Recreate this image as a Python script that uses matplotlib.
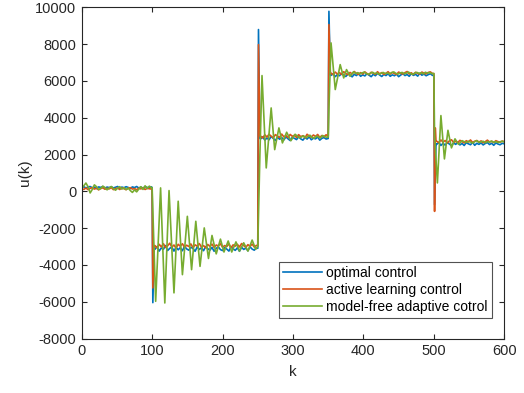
import numpy as np
import matplotlib
matplotlib.use("Agg")
import matplotlib.pyplot as plt

plt.rcParams['font.family'] = ['Liberation Sans', 'DejaVu Sans']
plt.rcParams['axes.unicode_minus'] = False

# ---- data (k, u(k)) ----
STEP = 3

# optimal control (blue)
blue_seg1 = [200, 250, 180, 230, 260, 190, 220, 150, 240, 210, 260, 170, 230, 200, 250, 180, 220,
             260, 160, 230, 190, 250, 210, 150, 240, 200, 260, 180, 230, 170, 250, 210, 190, 240]
blue_jump1_k = [100, 101, 103]
blue_jump1 = [200, -6050, -3100]
blue_seg2 = [-3150, -3000, -3250, -3080, -3150, -2950, -3220, -3100, -3030, -3250, -3040, -3180,
             -3060, -3230, -2990, -3130, -3200, -3040, -3110, -3260, -3020, -3160, -3070, -3230,
             -3000, -3120, -3200, -3050, -3260, -3100, -3020, -3170, -3220, -3060, -3140, -3250,
             -3010, -3130, -3210, -3070, -3260, -3040, -3160, -3090, -3230, -3020, -3140, -3200, -3080]
blue_jump2_k = [250, 251, 253]
blue_jump2 = [-3100, 8790, 2870]
blue_seg3 = [2850, 2960, 2780, 2900, 2800, 2980, 2870, 2760, 2940, 2830, 2920, 2790, 2960, 2850,
             2760, 2930, 2880, 2810, 2970, 2850, 2780, 2920, 2840, 2960, 2800, 2890, 2850, 2950,
             2780, 2880, 2920, 2840]
blue_jump3_k = [350, 351, 353]
blue_jump3 = [2870, 9780, 6320]
blue_seg4 = [6300, 6390, 6230, 6340, 6280, 6410, 6300, 6240, 6370, 6320, 6220, 6360, 6290, 6400,
             6250, 6330, 6270, 6390, 6310, 6230, 6360, 6280, 6410, 6320, 6240, 6350, 6290, 6390,
             6250, 6330, 6280, 6370, 6230, 6320, 6390, 6290, 6350, 6250, 6400, 6300, 6360, 6260,
             6410, 6310, 6370, 6280, 6340, 6390, 6300]
blue_jump4_k = [500, 501, 503]
blue_jump4 = [6300, -720, 2580]
blue_seg5 = [2550, 2660, 2490, 2610, 2510, 2650, 2570, 2480, 2630, 2550, 2670, 2520, 2600, 2490,
             2640, 2580, 2530, 2660, 2500, 2610, 2550, 2630, 2520, 2600, 2650, 2540, 2610, 2500,
             2630, 2570, 2530, 2610, 2580]

# active learning control (orange)
orange_seg1 = [150, 100, 180, 90, 160, 200, 120, 170, 80, 150, 190, 110, 160, 130, 200, 90, 150,
               170, 100, 180, 140, 90, 160, 200, 120, 150, 80, 170, 130, 190, 100, 160, 140, 120]
orange_jump1_k = [100, 101, 103]
orange_jump1 = [120, -5250, -2950]
orange_seg2 = [-2950, -3080, -2880, -3020, -2850, -3050, -2960, -2820, -3030, -2920, -3090, -2880,
               -2990, -2850, -3040, -2930, -3000, -2860, -3060, -2910, -2980, -2840, -3030, -2950,
               -3070, -2890, -2990, -2870, -3050, -2920, -2970, -2850, -3040, -2950, -3000, -2860,
               -3070, -2910, -2980, -2880, -3030, -2840, -2950, -3050, -2900, -2990, -2870, -3030, -2940]
orange_jump2_k = [250, 251, 253]
orange_jump2 = [-2950, 7970, 3000]
orange_seg3 = [3000, 2900, 3070, 2950, 3100, 2990, 2910, 3080, 3000, 2930, 3110, 2960, 3030, 2920,
               3090, 2990, 3040, 2930, 3080, 2970, 3020, 2910, 3100, 3000, 2950, 3060, 2980, 3090,
               2930, 3030, 2970, 3070]
orange_jump3_k = [350, 351, 353]
orange_jump3 = [3000, 9060, 6400]
orange_seg4 = [6420, 6340, 6480, 6370, 6450, 6350, 6500, 6400, 6340, 6460, 6380, 6510, 6410, 6350,
               6450, 6370, 6490, 6400, 6340, 6470, 6420, 6360, 6500, 6380, 6450, 6350, 6410, 6500,
               6370, 6460, 6400, 6350, 6480, 6420, 6370, 6450, 6510, 6380, 6440, 6350, 6470, 6410,
               6370, 6480, 6420, 6380, 6460, 6490, 6400]
orange_jump4_k = [500, 501, 502, 503]
orange_jump4 = [6400, -1090, 3445, 2720]
orange_seg5 = [2720, 2640, 2790, 2670, 2760, 2630, 2740, 2800, 2660, 2710, 2650, 2770, 2700, 2630,
               2750, 2680, 2790, 2650, 2720, 2760, 2670, 2740, 2640, 2700, 2780, 2680, 2720, 2650,
               2750, 2700, 2670, 2730, 2700]

# model-free adaptive control (green)
green_seg1 = [150, 300, 450, 250, -90, 100, 350, 250, 100, 150, 280, 200, 80, 180, 260, 150, 60,
              170, 250, 120, 200, 90, 180, 40, -60, 80, -30, 120, 250, 100, 300, 150, 280, 200]
green_osc1_k = [100, 105, 112, 118, 124, 131, 137, 143, 150, 156, 162, 168, 174, 180, 185, 191,
                197, 202, 208, 213, 219, 224, 230, 236, 242, 247]
green_osc1 = [200, -5980, 185, -6070, 40, -5520, -540, -4530, -1360, -4260, -1630, -4080, -1990,
              -3650, -2400, -3400, -2600, -3300, -2700, -3300, -2750, -3250, -2800, -3250, -2650, -3150]
green_osc2_k = [250, 253, 256, 262, 269, 274, 280, 285, 291, 297, 303, 309]
green_osc2 = [-3000, 2000, 6290, 1270, 4530, 2265, 3445, 2630, 3210, 2750, 3100, 2900]
green_seg3 = [2950, 3020, 2900, 2980, 3050, 2930, 2880, 3000, 2960, 2900, 3030, 2970, 2940]
green_osc3_k = [350, 351, 354, 360, 367, 372, 376, 381, 386]
green_osc3 = [2950, 4500, 8065, 5530, 6885, 6160, 6615, 6250, 6500]
green_seg4 = [6400, 6450, 6380, 6430, 6480, 6400, 6350, 6420, 6470, 6390, 6440, 6360, 6410, 6460,
              6400, 6430, 6380, 6450, 6490, 6410, 6370, 6430, 6460, 6390, 6420, 6480, 6400, 6350,
              6430, 6460, 6410, 6440, 6380, 6470, 6420, 6450, 6400]
green_osc4_k = [500, 501, 505, 510, 515, 520, 525, 530, 535, 540]
green_osc4 = [6400, 3000, 455, 4115, 1760, 3315, 2360, 2850, 2550, 2750]
green_seg5 = [2700, 2650, 2720, 2680, 2620, 2700, 2750, 2660, 2690, 2720, 2640, 2700, 2680, 2730,
              2660, 2700, 2650, 2690, 2720, 2680]


def steady(start, vals):
    return list(start + STEP * np.arange(len(vals)))


def join(*parts):
    ks, vs = [], []
    for k, v in parts:
        ks += list(k)
        vs += list(v)
    return np.array(ks), np.array(vs)


blue_k, blue_u = join((steady(0, blue_seg1), blue_seg1), (blue_jump1_k, blue_jump1),
                      (steady(104, blue_seg2), blue_seg2), (blue_jump2_k, blue_jump2),
                      (steady(254, blue_seg3), blue_seg3), (blue_jump3_k, blue_jump3),
                      (steady(354, blue_seg4), blue_seg4), (blue_jump4_k, blue_jump4),
                      (steady(504, blue_seg5), blue_seg5))
orange_k, orange_u = join((steady(0, orange_seg1), orange_seg1), (orange_jump1_k, orange_jump1),
                          (steady(104, orange_seg2), orange_seg2), (orange_jump2_k, orange_jump2),
                          (steady(254, orange_seg3), orange_seg3), (orange_jump3_k, orange_jump3),
                          (steady(354, orange_seg4), orange_seg4), (orange_jump4_k, orange_jump4),
                          (steady(504, orange_seg5), orange_seg5))
green_k, green_u = join((steady(0, green_seg1), green_seg1), (green_osc1_k, green_osc1),
                        (green_osc2_k, green_osc2), (steady(312, green_seg3), green_seg3),
                        (green_osc3_k, green_osc3), (steady(389, green_seg4), green_seg4),
                        (green_osc4_k, green_osc4), (steady(543, green_seg5), green_seg5))

fig = plt.figure(figsize=(5.24, 3.93), dpi=100)
ax = fig.add_axes([81.7 / 524, 1 - 338.5 / 393, (504.3 - 81.7) / 524, (338.5 - 7.3) / 393])

ax.plot(blue_k, blue_u, color='#0072BD', lw=1.2, label='optimal control')
ax.plot(orange_k, orange_u, color='#D95319', lw=1.2, label='active learning control')
ax.plot(green_k, green_u, color='#77AC30', lw=1.2, label='model-free adaptive cotrol')

ax.set_xlim(0, 600)
ax.set_ylim(-8000, 10000)
ax.set_xticks(np.arange(0, 601, 100))
ax.set_yticks(np.arange(-8000, 10001, 2000))

axis_color = '#262626'
for s in ax.spines.values():
    s.set_color(axis_color)
    s.set_linewidth(0.8)
ax.tick_params(direction='in', top=True, right=True, length=3.5, width=0.8,
               colors=axis_color, labelsize=10.5, pad=4)

ax.set_xlabel('k', fontsize=11, color=axis_color, labelpad=5)
ax.set_ylabel('u(k)', fontsize=11, color=axis_color, labelpad=2)

leg = ax.legend(loc='lower right', bbox_to_anchor=(492 / 524, 1 - 318 / 393),
                bbox_transform=fig.transFigure, borderaxespad=0, fontsize=10,
                frameon=True, fancybox=False, handlelength=2.8, handletextpad=0.3,
                labelspacing=0.2, borderpad=0.3)
leg.get_frame().set_edgecolor(axis_color)
leg.get_frame().set_linewidth(0.8)

fig.savefig('out.png', dpi=100)
